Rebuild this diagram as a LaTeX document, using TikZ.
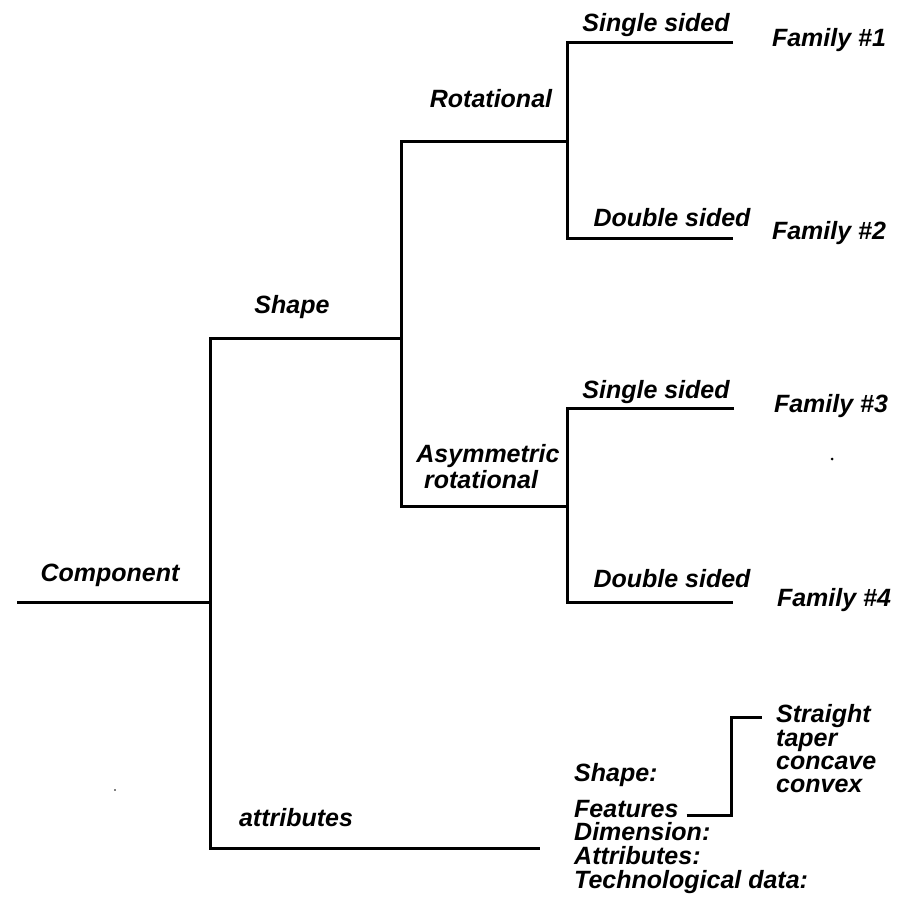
\documentclass[tikz,border=0pt]{standalone}
\usepackage{fontspec}
\setmainfont{Liberation Sans}
\begin{document}
\begin{tikzpicture}[x=1pt,y=-1pt,
  lbl/.style={inner sep=0pt, anchor=base, font=\fontsize{25}{25}\selectfont\bfseries\itshape},
  lbll/.style={lbl, anchor=base west},
  branch/.style={line width=3pt, line join=miter, line cap=butt}]
\useasboundingbox (0,0) rectangle (914,905);

% junction points of the tree
\coordinate (root)   at (17,602);
\coordinate (j0)     at (210,602);
\coordinate (j0top)  at (210,338);
\coordinate (j0bot)  at (210,848);
\coordinate (j1)     at (401,338);
\coordinate (j1top)  at (401,141);
\coordinate (j1bot)  at (401,506);
\coordinate (j2a)    at (567,141);
\coordinate (j2atop) at (567,42);
\coordinate (j2abot) at (567,238);
\coordinate (j2b)    at (567,506);
\coordinate (j2btop) at (567,408);
\coordinate (j2bbot) at (567,602);
\coordinate (e1)     at (733,42);
\coordinate (e2)     at (733,238);
\coordinate (e3)     at (734,408);
\coordinate (e4)     at (733,602);
\coordinate (eattr)  at (540,848);
\coordinate (fk)     at (731,815);
\coordinate (fktop)  at (731,717);
\coordinate (fkend)  at (762,717);

% labels
\node[lbl] (component) at (110,581) {Component};
\node[lbl] (shape)     at (292,313) {Shape};
\node[lbl] (attrib)    at (296,826) {attributes};
\node[lbl] (rot)       at (491,107) {Rotational};
\node[lbl] (asym)      at (488,462) {Asymmetric};
\node[lbl] (asymrot)   at (481,488) {rotational};
\node[lbl] (ss1)       at (656,31)  {Single sided};
\node[lbl] (ds1)       at (672,226) {Double sided};
\node[lbl] (ss2)       at (656,398) {Single sided};
\node[lbl] (ds2)       at (672,587) {Double sided};
\node[lbl] (fam1)      at (829,46)  {Family \#1};
\node[lbl] (fam2)      at (829,239) {Family \#2};
\node[lbl] (fam3)      at (831,412) {Family \#3};
\node[lbl] (fam4)      at (834,606) {Family \#4};

\node[lbll] (ashape)   at (574,781) {Shape:};
\node[lbll] (feat)     at (574,817) {Features};
\node[lbll] (dim)      at (574,840) {Dimension:};
\node[lbll] (attr)     at (574,864) {Attributes:};
\node[lbll] (tech)     at (574,888) {Technological data:};

\node[lbll] (straight) at (776,722) {Straight};
\node[lbll] (taper)    at (776,746) {taper};
\node[lbll] (concave)  at (776,769) {concave};
\node[lbll] (convex)   at (776,792) {convex};

% tree branches
\draw[branch] (root) -- (j0);
\draw[branch] (j1) -- (j0top) -- (j0bot) -- (eattr);
\draw[branch] (j2a) -- (j1top) -- (j1bot) -- (j2b);
\draw[branch] (e1) -- (j2atop) -- (j2abot) -- (e2);
\draw[branch] (e3) -- (j2btop) -- (j2bbot) -- (e4);

% features sub-branch
\draw[branch] (feat.east |- fk) ++(8,0) -- (fk) -- (fktop) -- (fkend);

% specks
\fill (832,459) circle (1.5pt);
\fill (115,790) circle (0.8pt);
\end{tikzpicture}
\end{document}
